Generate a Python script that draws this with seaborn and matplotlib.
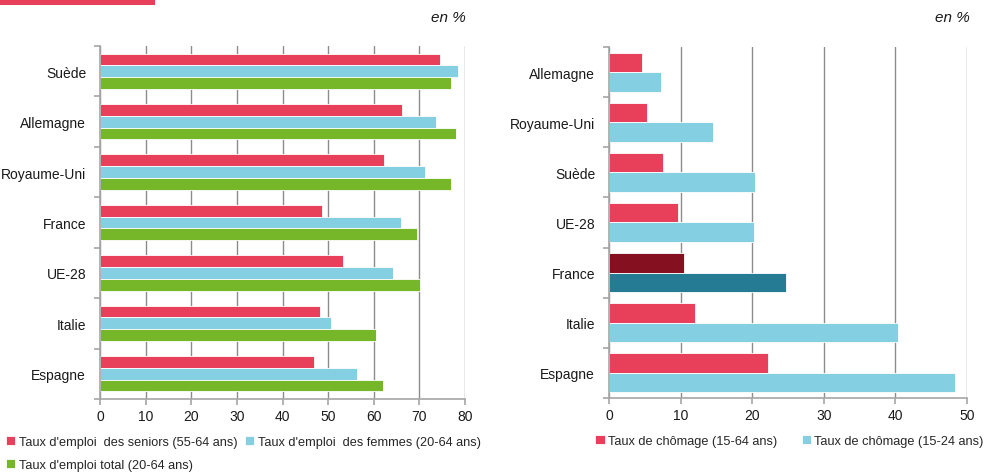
import numpy as np
import pandas as pd
import seaborn as sns
import matplotlib.pyplot as plt
from matplotlib.patches import Rectangle

# Données - taux d'emploi (panneau gauche)
pays_emploi = ["Suède", "Allemagne", "Royaume-Uni", "France", "UE-28", "Italie", "Espagne"]
seniors = [74.5, 66.2, 62.2, 48.7, 53.3, 48.2, 46.9]
femmes = [78.5, 73.6, 71.2, 66.0, 64.2, 50.6, 56.3]
total = [76.9, 78.0, 76.9, 69.5, 70.1, 60.5, 62.0]
series_emploi = ["Taux d'emploi  des seniors (55-64 ans)",
                 "Taux d'emploi  des femmes (20-64 ans)",
                 "Taux d'emploi total (20-64 ans)"]

# Données - taux de chômage (panneau droit)
pays_chomage = ["Allemagne", "Royaume-Uni", "Suède", "UE-28", "France", "Italie", "Espagne"]
chomage_15_64 = [4.65, 5.35, 7.5, 9.6, 10.45, 12.0, 22.2]
chomage_15_24 = [7.2, 14.55, 20.35, 20.25, 24.7, 40.3, 48.3]
series_chomage = ["Taux de chômage (15-64 ans)", "Taux de chômage (15-24 ans)"]

rouge = "#E8405A"
bleu = "#84CFE2"
vert = "#76B72A"
rouge_fonce = "#85101F"
bleu_fonce = "#257B93"

df1 = pd.DataFrame({"pays": pays_emploi * 3,
                    "valeur": seniors + femmes + total,
                    "serie": np.repeat(series_emploi, len(pays_emploi))})
df2 = pd.DataFrame({"pays": pays_chomage * 2,
                    "valeur": chomage_15_64 + chomage_15_24,
                    "serie": np.repeat(series_chomage, len(pays_chomage))})

sns.set_theme(style="white")
plt.rcParams['font.family'] = ['Liberation Sans', 'DejaVu Sans']

fig = plt.figure(figsize=(9.92, 4.77), dpi=100)
ax1 = fig.add_axes([0.1008, 0.1614, 0.3680, 0.7401])
ax2 = fig.add_axes([0.6139, 0.1635, 0.3609, 0.7359])

sns.barplot(data=df1, y="pays", x="valeur", hue="serie", orient="h",
            palette=[rouge, bleu, vert], saturation=1, width=0.70, ax=ax1,
            edgecolor="white", linewidth=0.6, legend=True)
sns.barplot(data=df2, y="pays", x="valeur", hue="serie", orient="h",
            palette=[rouge, bleu], saturation=1, width=0.78, ax=ax2,
            edgecolor="white", linewidth=0.6, legend=True)

# France mise en évidence
i_fr = pays_chomage.index("France")
ax2.containers[0][i_fr].set_facecolor(rouge_fonce)
ax2.containers[1][i_fr].set_facecolor(bleu_fonce)

for ax, xmax, n in [(ax1, 80, len(pays_emploi)), (ax2, 50, len(pays_chomage))]:
    ax.set_xlim(0, xmax)
    ax.set_ylim(n - 0.5, -0.5)
    ax.set_xticks(np.arange(0, xmax + 1, 10))
    ax.set_xlabel("")
    ax.set_ylabel("")
    ax.grid(axis="x", color="#8C8C8C", linewidth=1)
    ax.set_axisbelow(True)
    for s in ["top", "right"]:
        ax.spines[s].set_visible(False)
    for s in ["left", "bottom"]:
        ax.spines[s].set_color("#A6A6A6")
        ax.spines[s].set_linewidth(1.2)
    ax.set_yticks(np.arange(-0.5, n, 1.0), minor=True)
    ax.tick_params(axis="y", which="major", length=0, pad=10, labelsize=10, labelcolor="#1a1a1a")
    ax.tick_params(axis="y", which="minor", length=4, color="#A6A6A6", width=1.2, left=True)
    ax.tick_params(axis="x", which="major", length=4, color="#A6A6A6", width=1.2, bottom=True,
                   labelsize=10, labelcolor="#1a1a1a", pad=3)

# Légendes
h, l = ax1.get_legend_handles_labels()
ax1.legend([h[0], h[2], h[1]], [l[0], l[2], l[1]], ncol=2, frameon=False,
           loc="upper left", bbox_to_anchor=(-0.258, -0.105), fontsize=9.2,
           handlelength=0.75, handleheight=0.75, handletextpad=0.25,
           columnspacing=0.6, labelspacing=0.85, borderaxespad=0, borderpad=0)
h, l = ax2.get_legend_handles_labels()
ax2.legend(h, l, ncol=2, frameon=False,
           loc="upper left", bbox_to_anchor=(-0.038, -0.105), fontsize=9.2,
           handlelength=0.75, handleheight=0.75, handletextpad=0.25,
           columnspacing=1.9, borderaxespad=0, borderpad=0)

fig.text(0.470, 0.962, "en %", ha="right", va="center", fontsize=11, style="italic", color="#1a1a1a")
fig.text(0.978, 0.962, "en %", ha="right", va="center", fontsize=11, style="italic", color="#1a1a1a")

# bandeau rouge coupé en haut à gauche
fig.patches.append(Rectangle((0, 0.988), 0.156, 0.012, transform=fig.transFigure,
                             facecolor=rouge, edgecolor="none"))

fig.savefig("out.png", dpi=100)
